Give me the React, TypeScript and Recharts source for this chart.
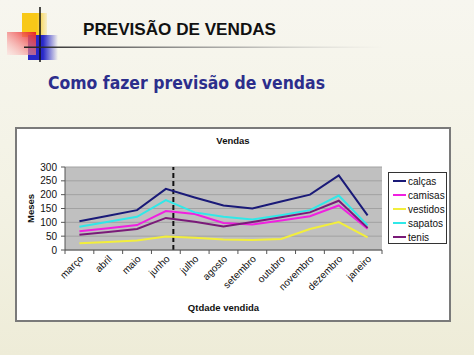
import React from "react";
import {
  LineChart,
  Line,
  XAxis,
  YAxis,
  CartesianGrid,
  Legend,
  ReferenceLine,
} from "recharts";

const months = [
  "março",
  "abril",
  "maio",
  "junho",
  "julho",
  "agosto",
  "setembro",
  "outubro",
  "novembro",
  "dezembro",
  "janeiro",
];

const calcas = [104, 124, 144, 221, 190, 161, 150, 175, 200, 270, 125];
const camisas = [68, 79, 90, 141, 130, 98, 92, 107, 122, 161, 77];
const vestidos = [24, 29, 34, 49, 44, 38, 36, 40, 76, 101, 46];
const sapatos = [84, 102, 120, 180, 136, 120, 110, 126, 144, 197, 89];
const tenis = [55, 65, 76, 116, 102, 85, 101, 118, 136, 178, 80];

const yTicks = [0, 50, 100, 150, 200, 250, 300];

// dashed divider, in month index units (a bit after junho)
const dividerAt = 3.26;

const series = [
  { key: "calças", values: calcas, color: "#1a1a78" },
  { key: "camisas", values: camisas, color: "#f020e0" },
  { key: "vestidos", values: vestidos, color: "#f2ee3c" },
  { key: "sapatos", values: sapatos, color: "#30e8e8" },
  { key: "tenis", values: tenis, color: "#7a1a78" },
];

const data = months.map((m, i) => {
  const row: Record<string, string | number> = { mes: m, idx: i };
  series.forEach((s) => {
    row[s.key] = s.values[i];
  });
  return row;
});

const FONT = "Arial, 'Liberation Sans', sans-serif";
const CHART_W = 434;
const CHART_H = 193;
const PLOT_W = 317;
const LEGEND_W = 59;
const HALF = PLOT_W / months.length / 2;

const XTick = (props: any) => {
  const { x, y, payload, index } = props;
  return (
    <g>
      <line x1={x - HALF} x2={x - HALF} y1={y} y2={y + 4} stroke="#555" />
      {index === months.length - 1 && (
        <line x1={x + HALF} x2={x + HALF} y1={y} y2={y + 4} stroke="#555" />
      )}
      <text
        x={x + 2}
        y={y + 7}
        dy="0.35em"
        textAnchor="end"
        fontSize={10}
        fontFamily={FONT}
        fill="#111"
        transform={`rotate(-45, ${x + 2}, ${y + 7})`}
      >
        {payload.value}
      </text>
    </g>
  );
};

// keeps the series order instead of the legend's alphabetical sort
const LegendBox = () => (
  <div
    style={{
      border: "1px solid #333",
      background: "#fff",
      width: LEGEND_W,
      height: 72,
      boxSizing: "border-box",
      paddingTop: 1,
      fontFamily: FONT,
      fontSize: 10,
      color: "#111",
    }}
  >
    {series.map((s) => (
      <div
        key={s.key}
        style={{ display: "flex", alignItems: "center", height: 14 }}
      >
        <span
          style={{
            display: "inline-block",
            width: 13,
            height: 2,
            background: s.color,
            marginLeft: 4,
            marginRight: 2,
          }}
        />
        <span>{s.key}</span>
      </div>
    ))}
  </div>
);

export default function App() {
  return (
    <div
      style={{
        position: "absolute",
        left: 0,
        top: 0,
        width: 474,
        height: 355,
        overflow: "hidden",
        background:
          "linear-gradient(180deg, #f7f6ef 0%, #f3f2e4 55%, #eeecd8 100%)",
      }}
    >
      <svg
        width={474}
        height={110}
        style={{ position: "absolute", left: 0, top: 0 }}
      >
        <defs>
          <linearGradient id="red" x1="1" y1="0" x2="0" y2="1">
            <stop offset="0" stopColor="#e82020" />
            <stop offset="1" stopColor="#ffd8d8" stopOpacity="0.4" />
          </linearGradient>
          <linearGradient id="blue" x1="0" y1="0" x2="1" y2="0">
            <stop offset="0.5" stopColor="#2828c8" />
            <stop offset="1" stopColor="#2828c8" stopOpacity="0" />
          </linearGradient>
          <linearGradient id="yel" x1="0" y1="0" x2="1" y2="0">
            <stop offset="0.6" stopColor="#f8c818" />
            <stop offset="1" stopColor="#f8d860" stopOpacity="0.3" />
          </linearGradient>
          <linearGradient id="rule" x1="0" y1="0" x2="1" y2="0">
            <stop offset="0" stopColor="#222" />
            <stop offset="0.6" stopColor="#888" stopOpacity="0.6" />
            <stop offset="1" stopColor="#bbb" stopOpacity="0" />
          </linearGradient>
        </defs>
        <rect x={22} y={13} width={25} height={24} fill="url(#yel)" />
        <rect x={28} y={35} width={30} height={25} fill="url(#blue)" />
        <rect x={7} y={32} width={29} height={23} fill="url(#red)" />
        <line x1={40} x2={40} y1={7} y2={62} stroke="#111" strokeWidth={1.5} />
        <rect x={24} y={46.5} width={360} height={1.5} fill="url(#rule)" />
        <text
          x={83}
          y={35}
          fontFamily={FONT}
          fontWeight="bold"
          fontSize={17}
          fill="#111"
          textLength={193}
          lengthAdjust="spacingAndGlyphs"
        >
          PREVISÃO DE VENDAS
        </text>
        <text
          x={48}
          y={89}
          fontFamily="'DejaVu Sans', sans-serif"
          fontWeight="bold"
          fontSize={18}
          fill="#2c2e8c"
          textLength={277}
          lengthAdjust="spacingAndGlyphs"
        >
          Como fazer previsão de vendas
        </text>
      </svg>

      <div
        style={{
          position: "absolute",
          left: 15,
          top: 127,
          width: CHART_W + 2,
          height: CHART_H + 2,
          border: "2px solid #7a7a7a",
          boxSizing: "border-box",
          background: "#fff",
        }}
      />
      <div
        style={{
          position: "absolute",
          left: 16,
          top: 128,
          width: CHART_W,
          height: CHART_H,
        }}
      >
        <div
          style={{
            position: "absolute",
            left: 0,
            width: CHART_W,
            top: 7,
            textAlign: "center",
            fontFamily: FONT,
            fontWeight: "bold",
            fontSize: 9.5,
            color: "#111",
          }}
        >
          Vendas
        </div>
        <LineChart
          width={CHART_W}
          height={CHART_H}
          data={data}
          margin={{ top: 39, right: 68 - LEGEND_W, left: 0, bottom: 0 }}
        >
          <CartesianGrid
            vertical={false}
            fill="#c0c0c0"
            fillOpacity={1}
            stroke="#a2a2a2"
          />
          <XAxis
            dataKey="mes"
            height={71}
            interval={0}
            padding={{ left: HALF, right: HALF }}
            tickLine={false}
            tickSize={0}
            tickMargin={0}
            stroke="#555"
            tick={<XTick />}
            label={(p: any) => {
              const vb = p.viewBox || {};
              return (
                <text
                  x={vb.x + vb.width / 2}
                  y={183}
                  textAnchor="middle"
                  fontFamily={FONT}
                  fontWeight="bold"
                  fontSize={9.5}
                  fill="#111"
                >
                  Qtdade vendida
                </text>
              );
            }}
          />
          <XAxis
            xAxisId="idx"
            dataKey="idx"
            type="number"
            domain={[0, months.length - 1]}
            padding={{ left: HALF, right: HALF }}
            allowDataOverflow
            hide
          />
          <YAxis
            width={49}
            domain={[0, 300]}
            ticks={yTicks}
            interval={0}
            tickSize={4}
            tickMargin={4}
            stroke="#555"
            tick={{ fontSize: 10, fontFamily: FONT, fill: "#111" }}
            label={(p: any) => {
              const vb = p.viewBox || {};
              const cy = vb.y + vb.height / 2;
              return (
                <text
                  x={15}
                  y={cy}
                  dy="0.35em"
                  textAnchor="middle"
                  fontFamily={FONT}
                  fontWeight="bold"
                  fontSize={9.5}
                  fill="#111"
                  transform={`rotate(-90, 15, ${cy})`}
                >
                  Meses
                </text>
              );
            }}
          />
          <ReferenceLine
            xAxisId="idx"
            x={dividerAt}
            stroke="#111"
            strokeWidth={2}
            strokeDasharray="5 3"
          />
          <Legend
            layout="horizontal"
            verticalAlign="middle"
            align="right"
            wrapperStyle={{ left: 372, top: 44, width: LEGEND_W, height: 72 }}
            content={<LegendBox />}
          />
          {series.map((s) => (
            <Line
              key={s.key}
              dataKey={s.key}
              name={s.key}
              stroke={s.color}
              strokeWidth={2}
              dot={false}
              activeDot={false}
              isAnimationActive={false}
            />
          ))}
        </LineChart>
      </div>
    </div>
  );
}
